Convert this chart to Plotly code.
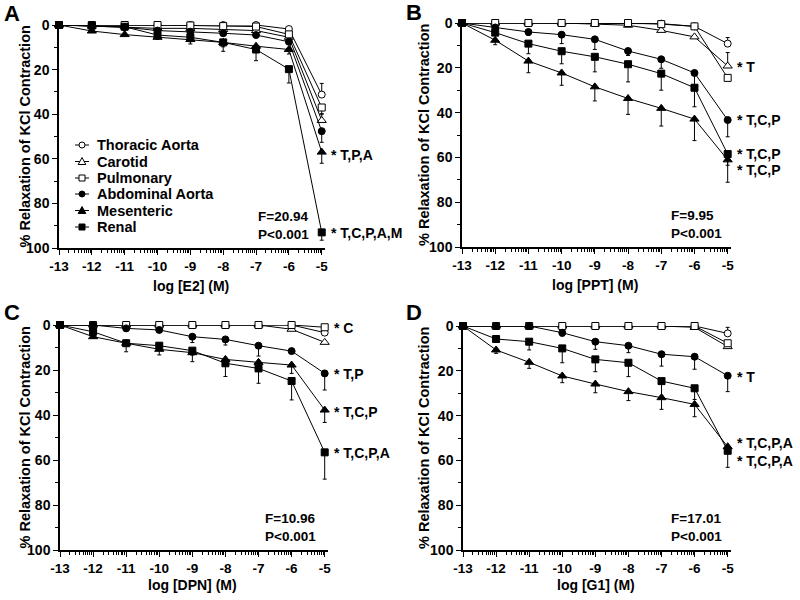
import math
import plotly.graph_objects as go

# ---------------- data ----------------
log_conc = [-13, -12, -11, -10, -9, -8, -7, -6, -5]
x_tick_labels = ["-13", "-12", "-11", "-10", "-9", "-8", "-7", "-6", "-5"]
y_tick_vals = [0, 20, 40, 60, 80, 100]
y_tick_labels = ["0", "20", "40", "60", "80", "100"]

series_names = ["Thoracic Aorta", "Carotid", "Pulmonary", "Abdominal Aorta", "Mesenteric", "Renal"]
N = None

# Panel A: E2
E2_mean = [
    [0, 0, 0, 0, 0, 0, 0, 1.8, 31.2],
    [0, 0.5, 0.8, 1.5, 1.5, 2, 2.5, 5.5, 42.8],
    [0, 0, 0, 0, 0.2, 0.5, 0.7, 4.2, 37],
    [0, 0.5, 1, 2.5, 3, 3.7, 4.5, 7.5, 47.6],
    [0, 2.7, 4.3, 5.5, 6.5, 7.8, 9.5, 11, 57],
    [0, 0.3, 0.8, 4.5, 5.5, 7.8, 11, 19.8, 93],
]
E2_sem = [
    [N, N, N, N, N, N, N, N, 5],
    [N, N, N, N, N, N, N, N, 3],
    [N, N, N, N, N, N, N, N, 3],
    [N, N, N, N, N, N, N, N, 5],
    [N, N, N, 1, 2, 2, 2.5, 2, 5],
    [N, N, N, 1.5, 2, 4, 5, 6.2, 3.5],
]
E2_labels = ["* T,P,A", "* T,C,P,A,M"]
E2_label_y = [58.5, 93.3]

# Panel B: PPT
PPT_mean = [
    [0, 0, 0, 0, 0, 0, 0.3, 1.5, 9.2],
    [0, 0, 0, 0, 0.5, 1, 3.3, 6.2, 19.2],
    [0, 0, 0, 0, 0, 0, 0.5, 1.5, 24.5],
    [0, 2, 4, 5.2, 7.3, 12.5, 16.2, 22.3, 43.3],
    [0, 7.7, 17, 22.3, 28.5, 33.7, 38.1, 42.9, 61.1],
    [0, 4.3, 9.2, 12.6, 15.1, 18.4, 22.6, 28.9, 58.5],
]
PPT_sem = [
    [N, N, N, N, N, N, N, N, 2.7],
    [N, N, N, N, N, N, N, N, 6],
    [N, N, N, N, N, N, N, N, N],
    [N, 1, 1.5, 4, 4.5, 2, 4, 7.7, 7.5],
    [N, 2, 5.2, 5.5, 6.3, 7.1, 7.9, 9.6, 10],
    [N, 1, 4.5, 5.6, 6.7, 7.9, 7.4, 8.5, 5],
]
PPT_labels = ["* T", "* T,C,P", "* T,C,P", "* T,C,P"]
PPT_label_y = [19.6, 43.3, 58.5, 65.6]

# Panel C: DPN
DPN_mean = [
    [0, 0, 0, 0, 0, 0, 0, 0, 3.4],
    [0, 0, 0, 0, 0, 0, 0, 1.9, 7.7],
    [0, 0, 0, 0, 0, 0, 0, 0, 1.0],
    [0, 0, 1.5, 2.2, 5.2, 6.4, 9.2, 11.6, 21.5],
    [0, 5.2, 8.1, 10.8, 12.3, 15.3, 16.6, 17.8, 37.8],
    [0, 3, 8.1, 9.2, 11.4, 17, 19.3, 24.9, 56.6],
]
DPN_sem = [
    [N, N, N, N, N, N, N, N, N],
    [N, N, N, N, N, N, N, N, N],
    [N, N, N, N, N, N, N, N, N],
    [N, N, N, 0.5, 2.6, 2.5, 4.6, 1, 7.4],
    [N, 0.5, 3.8, 2.5, 4, 3, 3, 3.7, 5.5],
    [N, N, N, 1, 2, 5.9, 6.6, 8.4, 11.9],
]
DPN_labels = ["* C", "* T,P", "* T,C,P", "* T,C,P,A"]
DPN_label_y = [1.5, 21.8, 38.8, 57]

# Panel D: G1
G1_mean = [
    [0, 0, 0, 0, 0, 0, 0, 0, 3.3],
    [0, 0, 0, 0, 0, 0, 0, 0.6, 9.2],
    [0, 0, 0, 0, 0, 0, 0, 0, 7.7],
    [0, 0, 0, 3, 7, 8.8, 12.6, 13.7, 22.2],
    [0, 10.7, 16.2, 22.3, 25.9, 29.3, 32, 35, 53.9],
    [0, 5.8, 7, 10, 14.9, 16.4, 24.6, 27.8, 55.7],
]
G1_sem = [
    [N, N, N, N, N, N, N, N, 2.7],
    [N, N, N, N, N, N, N, N, N],
    [N, N, N, N, N, N, N, N, N],
    [N, N, N, 1.5, 3.4, 3.1, 5.3, 5.6, 7.1],
    [N, 1.5, 2.7, 3, 3.9, 4, 5.2, 5.5, 3],
    [N, 1, 3.7, 6.4, 5.5, 6.2, 6.6, 5, 7.4],
]
G1_labels = ["* T", "* T,C,P,A", "* T,C,P,A"]
G1_label_y = [22.9, 52.1, 60.1]

panel_letters = ["A", "B", "C", "D"]
x_titles = ["log [E2] (M)", "log [PPT] (M)", "log [DPN] (M)", "log [G1] (M)"]
y_title = "% Relaxation of KCl Contraction"
stats_text = ["F=20.94<br>P<0.001", "F=9.95<br>P<0.001", "F=10.96<br>P<0.001", "F=17.01<br>P<0.001"]
stats_x = [-7.0, -6.77, -6.87, -6.78]

# ---------------- styling / layout ----------------
W, H = 800, 600
FONT = "Liberation Sans, Arial, Helvetica, sans-serif"
symbols = ["circle", "triangle-up", "square", "circle", "triangle-up", "square"]
filled = [False, False, False, True, True, True]
msizes = [7, 8, 7, 7, 8, 7]
err_upward = [True, True, False, False, False, False]

# pixel boxes [left, right, top, bottom]
boxes = [(59, 325, 25, 248), (462, 731, 23, 247), (60, 328, 325, 550), (463, 731, 326, 550)]
letter_pos = [(12, 13), (414, 12), (12, 312), (414, 313)]
xtitle_py = [286, 285, 585, 585]
ytitle_px = [24, 424, 24, 424]

means = [E2_mean, PPT_mean, DPN_mean, G1_mean]
sems = [E2_sem, PPT_sem, DPN_sem, G1_sem]
labels = [E2_labels, PPT_labels, DPN_labels, G1_labels]
labels_y = [E2_label_y, PPT_label_y, DPN_label_y, G1_label_y]


def px(x):
    return x / W


def py(y):
    return 1 - y / H


minor_x = [d + math.log10(k) for d in range(-13, -5) for k in range(2, 10)]

fig = go.Figure()
layout = dict(
    width=W, height=H, margin=dict(l=0, r=0, t=0, b=0, pad=0, autoexpand=False),
    paper_bgcolor="white", plot_bgcolor="white", showlegend=False,
    font=dict(family=FONT, size=13, color="black", weight="bold"),
)
annotations = []
shapes = []

for p in range(4):
    suf = "" if p == 0 else str(p + 1)
    xr, yr = "x" + suf, "y" + suf
    l, r, t, b = boxes[p]
    layout["xaxis" + suf] = dict(
        domain=[px(l), px(r)], anchor=yr, range=[-13, -4.9], automargin=False,
        tickmode="array", tickvals=log_conc, ticktext=x_tick_labels,
        ticks="outside", ticklen=5, tickwidth=1.3, tickcolor="black",
        showline=True, linecolor="black", linewidth=1.5,
        showgrid=False, zeroline=False, fixedrange=True,
        tickfont=dict(family=FONT, size=13.5, color="black", weight="bold"),
        minor=dict(tickmode="array", tickvals=minor_x, ticks="outside", ticklen=3,
                   tickwidth=1, tickcolor="black", showgrid=False),
    )
    layout["yaxis" + suf] = dict(
        domain=[py(b), py(t)], anchor=xr, range=[100, 0], automargin=False,
        tickmode="array", tickvals=y_tick_vals, ticktext=y_tick_labels,
        ticks="outside", ticklen=5, tickwidth=1.3, tickcolor="black",
        showline=True, linecolor="black", linewidth=1.5,
        showgrid=False, zeroline=False, fixedrange=True,
        tickfont=dict(family=FONT, size=14, color="black", weight="bold"),
        minor=dict(tickmode="array", tickvals=[10, 30, 50, 70, 90], ticks="outside",
                   ticklen=3, tickwidth=1, tickcolor="black", showgrid=False),
    )
    for s in range(6):
        err = sems[p][s]
        zero = [0 if e is not None else None for e in err]
        if err_upward[s]:
            ey = dict(type="data", symmetric=False, array=zero, arrayminus=err,
                      color="black", thickness=1, width=2)
        else:
            ey = dict(type="data", symmetric=False, array=err, arrayminus=zero,
                      color="black", thickness=1, width=2)
        fig.add_trace(go.Scatter(
            x=log_conc, y=means[p][s], name=series_names[s], mode="lines+markers",
            xaxis=xr, yaxis=yr, cliponaxis=False,
            line=dict(color="black", width=1),
            marker=dict(symbol=symbols[s], size=msizes[s],
                        color="black" if filled[s] else "white",
                        line=dict(color="black", width=1)),
            error_y=ey,
        ))
    for txt, yv in zip(labels[p], labels_y[p]):
        annotations.append(dict(x=-5, y=yv, xref=xr, yref=yr, text=txt, showarrow=False,
                                xanchor="left", yanchor="middle", xshift=7,
                                font=dict(family=FONT, size=14, color="black", weight="bold")))
    annotations.append(dict(x=stats_x[p], y=89.8, xref=xr, yref=yr, text=stats_text[p],
                            showarrow=False, xanchor="left", yanchor="middle", align="left",
                            font=dict(family=FONT, size=13.5, color="black", weight="bold")))
    annotations.append(dict(x=px((l + r - 3) / 2), y=py(xtitle_py[p]), xref="paper", yref="paper",
                            text=x_titles[p], showarrow=False, xanchor="center", yanchor="middle",
                            font=dict(family=FONT, size=14, color="black", weight="bold")))
    annotations.append(dict(x=px(ytitle_px[p]), y=py((t + b) / 2), xref="paper", yref="paper",
                            text=y_title, showarrow=False, textangle=-90,
                            xanchor="center", yanchor="middle",
                            font=dict(family=FONT, size=14.5, color="black", weight="bold")))
    lx, ly = letter_pos[p]
    annotations.append(dict(x=px(lx), y=py(ly), xref="paper", yref="paper", text=panel_letters[p],
                            showarrow=False, xanchor="center", yanchor="middle",
                            font=dict(family=FONT, size=22, color="black", weight="bold")))

# ---------------- manual legend (panel A) ----------------
leg_rows = [145, 161.5, 178, 194, 210.5, 227]
lx0, lx1, mx, tx = 75, 89, 82, 95
for s, yrow in enumerate(leg_rows):
    shapes.append(dict(type="line", xref="paper", yref="paper",
                       x0=px(lx0), x1=px(lx1), y0=py(yrow), y1=py(yrow),
                       line=dict(color="black", width=1)))
    fill = "black" if filled[s] else "white"
    if symbols[s] == "circle":
        shapes.append(dict(type="circle", xref="paper", yref="paper",
                           x0=px(mx - 3), x1=px(mx + 3), y0=py(yrow + 3), y1=py(yrow - 3),
                           fillcolor=fill, line=dict(color="black", width=1)))
    elif symbols[s] == "square":
        shapes.append(dict(type="rect", xref="paper", yref="paper",
                           x0=px(mx - 3), x1=px(mx + 3), y0=py(yrow + 3), y1=py(yrow - 3),
                           fillcolor=fill, line=dict(color="black", width=1)))
    else:
        path = "M{:.5f},{:.5f} L{:.5f},{:.5f} L{:.5f},{:.5f} Z".format(
            px(mx), py(yrow - 4), px(mx - 3.8), py(yrow + 3), px(mx + 3.8), py(yrow + 3))
        shapes.append(dict(type="path", xref="paper", yref="paper", path=path,
                           fillcolor=fill, line=dict(color="black", width=1)))
    annotations.append(dict(x=px(tx), y=py(yrow), xref="paper", yref="paper", text=series_names[s],
                            showarrow=False, xanchor="left", yanchor="middle",
                            font=dict(family=FONT, size=14.5, color="black", weight="bold")))

layout["annotations"] = annotations
layout["shapes"] = shapes
fig.update_layout(**layout)
fig.write_html("out.html", config={"displayModeBar": False},
               post_script="document.body.style.margin='0';document.body.style.padding='0';")
